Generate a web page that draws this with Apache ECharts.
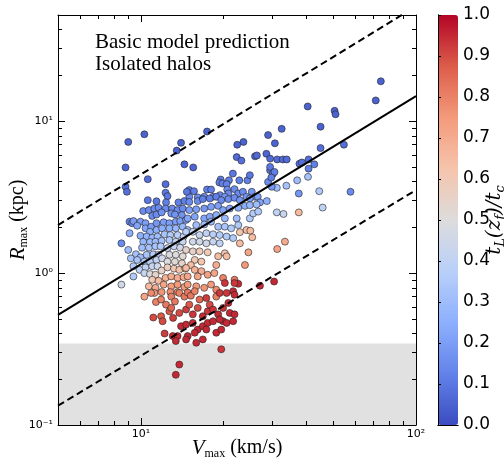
<!DOCTYPE html>
<html><head><meta charset="utf-8">
<script src="https://cdn.jsdelivr.net/npm/echarts@6/dist/echarts.min.js"></script>
<style>html,body{margin:0;padding:0;background:#fff}#c{width:504px;height:464px}</style>
</head><body><div id="c"></div>
<script>
// Vmax (km/s) of each isolated halo
const vmax = [
9.0,10.3,8.8,8.8,8.9,10.6,9.1,9.3,8.5,14.0,
13.5,17.4,14.4,15.5,10.6,11.4,22.4,23.6,22.3,26.0,
26.4,29.0,32.5,30.7,28.6,29.5,31.3,32.8,33.9,40.4,
45.0,50.6,51.0,45.0,54.7,71.4,74.5,37.7,38.5,40.7,
42.7,40.7,29.5,30.2,29.0,31.2,33.8,37.0,37.5,40.5,
44.5,45.8,57.8,31.2,33.0,37.5,33.4,31.3,27.1,30.5,
19.6,13.8,13.4,23.9,24.6,24.2,25.0,22.9,25.4,8.5,
9.4,10.3,11.1,12.2,23.2,29.5,30.6,21.6,19.5,19.3,
19.8,20.9,20.5,22.8,24.4,24.9,29.8,15.0,15.6,17.4,
18.0,20.6,20.8,21.9,22.6,23.5,19.4,20.2,25.3,26.0,
29.9,15.0,16.1,17.0,18.3,26.6,12.3,12.3,12.5,14.7,
12.35,13.7,14.4,10.2,10.7,11.2,11.6,12.3,13.0,13.6,
14.2,11.0,11.4,11.9,12.9,13.3,14.1,9.4,9.97,10.4,
9.7,10.4,10.9,11.4,12.1,12.7,13.4,13.9,14.6,10.8,
11.4,11.95,12.7,13.4,14.2,14.8,9.1,9.97,10.5,11.0,
11.5,12.2,12.8,13.6,14.3,10.2,10.8,11.3,11.9,12.7,
13.4,14.2,10.1,10.7,11.3,11.8,12.5,13.2,13.9,9.0,
9.6,9.97,10.5,11.1,11.6,9.2,9.7,10.3,10.8,11.4,
11.95,12.7,13.4,14.2,12.5,13.3,14.1,9.4,9.9,10.4,
11.0,11.5,10.3,10.8,11.3,11.9,12.5,13.2,13.8,14.5,
11.0,11.6,12.3,12.9,13.6,14.3,10.7,11.3,12.1,12.9,
13.6,14.4,11.2,11.9,12.8,13.6,15.0,16.1,16.8,17.8,
18.8,19.6,20.8,21.9,22.9,24.2,24.9,27.1,28.7,15.0,
15.9,17.0,18.0,19.1,19.9,21.05,22.6,23.9,24.9,26.35,
14.8,15.7,17.0,17.8,18.8,20.2,22.3,24.9,25.6,26.7,
15.9,17.0,18.0,19.1,20.2,21.3,22.6,14.6,15.45,16.35,
17.3,18.3,19.35,20.5,21.65,15.45,16.35,17.3,18.3,19.35,
22.9,14.6,15.45,16.35,17.5,19.1,20.2,20.5,15.7,16.6,
15.2,18.8,14.6,15.7,16.6,14.8,16.1,17.5,18.5,19.9,
21.9,22.6,14.8,15.9,17.0,18.0,18.8,20.2,21.9,21.65,
10.9,11.35,11.85,12.35,12.9,13.3,13.8,14.4,14.8,15.2,
15.7,16.35,17.3,18.8,19.35,20.5,21.9,11.85,12.0,13.1,
13.8,14.6,15.0,15.45,16.1,16.8,17.5,17.8,18.3,19.1,
19.9,20.8,21.05,21.9,19.9,12.7,12.9,13.06,13.6,14.0,
14.6,15.45,16.1,16.8,17.5,18.3,19.35,20.5,21.65,14.8,
15.7,16.8,17.3,18.8,19.6,13.4,15.9,14.6
];
// Rmax (kpc)
const rmax = [
7.3,8.2,4.96,3.7,3.43,4.15,2.18,2.13,1.57,7.2,
6.4,8.55,5.2,4.96,3.02,2.97,7.0,7.3,5.8,5.87,
5.95,8.1,8.9,7.15,6.1,5.67,5.6,5.6,5.6,12.5,
9.2,11.7,11.1,6.65,7.0,13.7,18.3,5.25,5.35,5.6,
5.2,4.87,4.75,4.5,3.98,3.64,3.76,4.08,3.34,4.3,
3.46,2.7,3.43,2.51,2.45,2.51,1.61,1.44,0.826,0.88,
0.315,0.25,0.214,1.13,1.37,1.92,1.9,1.86,1.72,0.84,
0.95,0.70,0.51,0.40,5.5,5.0,4.63,4.52,4.13,3.95,
3.89,4.08,3.85,4.08,4.08,4.41,4.26,3.52,3.46,3.55,
3.55,3.55,3.34,3.57,3.34,3.43,3.26,3.18,3.43,3.18,
3.7,3.18,3.15,3.18,3.18,3.18,3.85,3.38,3.21,3.43,
2.92,2.92,2.98,2.56,2.6,2.66,2.69,2.66,2.66,2.6,
2.66,2.38,2.43,2.51,2.47,2.43,2.41,2.2,2.18,2.13,
2.05,1.97,2.02,2.13,2.16,2.13,2.18,2.2,2.24,1.87,
1.92,1.97,1.97,1.97,2.02,1.92,1.83,1.76,1.74,1.71,
1.74,1.80,1.78,1.78,1.74,1.61,1.6,1.61,1.63,1.65,
1.61,1.61,1.47,1.47,1.5,1.5,1.46,1.5,1.47,1.42,
1.33,1.27,1.32,1.33,1.32,1.25,1.22,1.19,1.19,1.22,
1.25,1.32,1.32,1.29,1.19,1.19,1.16,1.11,1.05,1.09,
1.11,1.11,1.0,0.985,0.975,1.04,1.09,1.07,1.05,1.07,
0.904,0.89,0.93,0.951,0.93,0.94,0.818,0.8,0.84,0.818,
0.84,0.81,0.74,0.75,0.75,0.75,2.94,2.98,3.07,3.1,
3.18,3.02,3.07,3.13,3.02,3.18,3.1,2.92,2.98,2.6,
2.63,2.66,2.73,2.77,2.6,2.66,2.69,2.77,2.8,2.83,
2.29,2.35,2.29,2.35,2.41,2.29,2.29,2.29,2.47,2.54,
2.07,2.09,2.18,2.02,2.02,1.97,2.07,1.87,1.87,1.78,
1.83,1.8,1.78,1.74,1.70,1.61,1.61,1.57,1.61,1.57,
1.57,1.42,1.39,1.39,1.37,1.29,1.35,1.29,1.22,1.19,
1.13,1.13,1.08,1.05,1.03,0.951,0.951,0.975,1.0,0.93,
0.904,0.85,0.84,0.818,0.8,0.84,0.778,0.86,0.86,0.76,
0.74,0.645,0.67,0.62,0.70,0.65,0.74,0.70,0.745,0.71,
0.76,0.67,0.685,0.70,0.74,0.74,0.72,0.52,0.482,0.507,
0.547,0.575,0.62,0.535,0.59,0.52,0.56,0.62,0.575,0.535,
0.59,0.636,0.547,0.535,0.482,0.56,0.59,0.385,0.385,0.447,
0.458,0.47,0.425,0.447,0.47,0.482,0.495,0.47,0.482,0.385,
0.405,0.366,0.425,0.405,0.425,0.357,0.348,0.366
];
// tL(zf)/tc colour value
const tRatio = [
.05,.05,.06,.08,.08,.08,.12,.14,.15,.05,
.05,.05,.06,.06,.1,.1,.05,.05,.07,.07,
.07,.05,.05,.05,.06,.07,.07,.07,.07,.05,
.05,.05,.05,.08,.08,.05,.05,.08,.08,.08,
.12,.12,.1,.12,.15,.3,.32,.3,.18,.32,
.35,.4,.15,.4,.42,.65,.7,.72,.95,.95,
.93,.95,.95,.75,.72,.65,.65,.62,.65,.45,
.35,.72,.9,.92,.08,.1,.12,.1,.12,.12,
.12,.12,.13,.12,.12,.1,.12,.12,.12,.12,
.12,.15,.15,.15,.15,.15,.15,.18,.18,.2,
.18,.15,.15,.15,.15,.2,.08,.1,.1,.1,
.12,.12,.12,.15,.15,.15,.15,.15,.15,.15,
.15,.15,.15,.17,.17,.17,.17,.2,.2,.2,
.22,.22,.2,.18,.2,.2,.2,.2,.2,.25,
.25,.25,.25,.28,.28,.3,.25,.25,.27,.28,
.3,.33,.35,.38,.4,.28,.3,.3,.32,.35,
.4,.42,.3,.32,.33,.35,.4,.42,.45,.3,
.32,.3,.33,.35,.38,.33,.33,.35,.38,.4,
.45,.48,.5,.52,.5,.52,.55,.35,.38,.4,
.42,.45,.42,.48,.55,.55,.58,.6,.62,.62,
.6,.65,.68,.7,.7,.7,.65,.7,.72,.74,
.75,.75,.75,.76,.77,.78,.15,.15,.12,.12,
.12,.15,.15,.15,.18,.18,.2,.22,.25,.2,
.2,.18,.2,.2,.22,.22,.25,.25,.28,.3,
.22,.22,.22,.22,.25,.28,.3,.35,.35,.35,
.3,.3,.3,.32,.33,.35,.35,.38,.4,.42,
.4,.38,.36,.35,.35,.45,.45,.45,.42,.4,
.65,.55,.55,.58,.6,.65,.62,.65,.6,.62,
.65,.7,.65,.68,.7,.72,.72,.73,.72,.8,
.82,.95,.75,.75,.76,.75,.78,.93,.93,.95,
.78,.8,.8,.82,.8,.82,.8,.82,.82,.82,
.8,.85,.92,.8,.93,.93,.95,.88,.9,.92,
.9,.92,.88,.93,.9,.95,.93,.9,.93,.95,
.93,.95,.95,.95,.95,.88,.85,.95,.95,.95,
.95,.95,.95,.95,.95,.95,.95,.95,.95,.95,
.95,.95,.95,.95,.95,.95,.95,.95
];
// model prediction lines (Vmax endpoints, Rmax values)
const lineV = [5, 100];
const modelR = [0.53, 14.6];
const upperR = [2.07, 57];
const lowerR = [0.134, 3.52];
const resolutionR = 0.344;
// ticks
const xMajor = [10, 100];
const xMinor = [6, 7, 8, 9, 20, 30, 40, 50, 60, 70, 80, 90];
const yMajor = [0.1, 1, 10];
const yMinor = [0.2, 0.3, 0.4, 0.5, 0.6, 0.7, 0.8, 0.9, 2, 3, 4, 5, 6, 7, 8, 9, 20, 30, 40];
const powLabels = {0.1: '10\u207B\u00B9', 1: '10\u2070', 10: '10\u00B9', 100: '10\u00B2'};
const cbTicks = [0, 0.1, 0.2, 0.3, 0.4, 0.5, 0.6, 0.7, 0.8, 0.9, 1.0];
const coolwarm = ['#3b4cc0', '#6282ea', '#8db0fe', '#b9d0f9', '#dddcdc', '#f5c4ac', '#f49a7b', '#dc5d4a', '#b40426'];

const points = vmax.map((v, i) => [v, rmax[i], tRatio[i]]);
const pair = (xs, ys) => xs.map((x, i) => [x, ys[i]]);

const serif = 'Liberation Serif';
const tickLab = {fontFamily: 'DejaVu Sans', fontSize: 11, color: '#000'};
function xAx(pos, vals, len, lab, extra) {
  return Object.assign({
    type: 'log', logBase: 10, min: 5, max: 100, gridIndex: 0, position: pos, z: 10,
    axisLine: {show: true, onZero: false, lineStyle: {color: '#000', width: 1}},
    axisTick: {show: true, inside: true, length: len, customValues: vals, lineStyle: {color: '#000', width: 1}},
    axisLabel: lab ? Object.assign({show: true, margin: 4, customValues: xMajor, formatter: v => powLabels[v] || ''}, tickLab) : {show: false},
    splitLine: {show: false}, minorTick: {show: false}
  }, extra || {});
}
function yAx(pos, vals, len, lab, extra) {
  return Object.assign({
    type: 'log', logBase: 10, min: 0.1, max: 50, gridIndex: 0, position: pos, z: 10,
    axisLine: {show: true, onZero: false, lineStyle: {color: '#000', width: 1}},
    axisTick: {show: true, inside: true, length: len, customValues: vals, lineStyle: {color: '#000', width: 1}},
    axisLabel: lab ? Object.assign({show: true, margin: 5, customValues: yMajor, formatter: v => powLabels[v] || ''}, tickLab) : {show: false},
    splitLine: {show: false}, minorTick: {show: false}
  }, extra || {});
}
const nameRich = {
  i: {fontFamily: serif, fontStyle: 'italic', fontSize: 21, lineHeight: 24, verticalAlign: 'middle', color: '#000'},
  s: {fontFamily: serif, fontSize: 12, lineHeight: 12, verticalAlign: 'bottom', color: '#000'},
  n: {fontFamily: serif, fontSize: 20, lineHeight: 24, verticalAlign: 'middle', color: '#000'}
};
const cbRich = {
  i: {fontFamily: 'DejaVu Serif', fontStyle: 'italic', fontSize: 20, lineHeight: 24, verticalAlign: 'middle', color: '#000'},
  s: {fontFamily: 'DejaVu Serif', fontStyle: 'italic', fontSize: 13, lineHeight: 12, verticalAlign: 'bottom', color: '#000'}
};

const chart = echarts.init(document.getElementById('c'), null, {renderer: 'canvas'});
chart.setOption({
  animation: false,
  backgroundColor: '#fff',
  title: {
    text: 'Basic model prediction\nIsolated halos', left: 95, top: 31, padding: 0,
    textStyle: {fontFamily: serif, fontSize: 21, fontWeight: 'normal', lineHeight: 22, color: '#000'}
  },
  grid: [
    {left: 58, top: 15, width: 358, height: 410, outerBoundsMode: 'none', containLabel: false},
    {left: 438, top: 15, width: 20, height: 410, outerBoundsMode: 'none', containLabel: false}
  ],
  xAxis: [
    xAx('bottom', xMajor, 7, true, {
      name: '{i|V}{s|max}{n| (km/s)}', nameLocation: 'middle', nameGap: 11, nameMoveOverlap: false,
      nameTextStyle: {rich: nameRich}
    }),
    xAx('bottom', xMinor, 4, false, {axisLine: {show: false}}),
    xAx('top', xMajor, 7, false),
    xAx('top', xMinor, 4, false, {axisLine: {show: false}}),
    {type: 'value', gridIndex: 1, min: 0, max: 1, position: 'bottom', z: 10,
     axisLine: {show: true, lineStyle: {color: '#000', width: 1}}, axisTick: {show: false}, axisLabel: {show: false}, splitLine: {show: false}},
    {type: 'value', gridIndex: 1, min: 0, max: 1, position: 'top', z: 10,
     axisLine: {show: true, lineStyle: {color: '#000', width: 1}}, axisTick: {show: false}, axisLabel: {show: false}, splitLine: {show: false}}
  ],
  yAxis: [
    yAx('left', yMajor, 7, true, {
      name: '{i|R}{s|max}{n| (kpc)}', nameLocation: 'middle', nameGap: 28, nameRotate: 90, nameMoveOverlap: false,
      nameTextStyle: {rich: nameRich}
    }),
    yAx('left', yMinor, 4, false, {axisLine: {show: false}}),
    yAx('right', yMajor, 7, false),
    yAx('right', yMinor, 4, false, {axisLine: {show: false}}),
    {type: 'value', gridIndex: 1, min: 0, max: 1, interval: 0.1, position: 'right', z: 10,
     axisLine: {show: true, lineStyle: {color: '#000', width: 1}},
     axisTick: {show: true, inside: false, length: 3, lineStyle: {color: '#000', width: 1}},
     axisLabel: {show: true, margin: 5, fontFamily: 'DejaVu Sans', fontSize: 17, color: '#000', formatter: v => v.toFixed(1)},
     splitLine: {show: false},
     name: '{i|t}{s|L}{i|(z}{s|f}{i|)/t}{s|c}', nameLocation: 'middle', nameGap: 25, nameRotate: 90, nameMoveOverlap: false,
     nameTextStyle: {rich: cbRich}},
    {type: 'value', gridIndex: 1, min: 0, max: 1, position: 'left', z: 10,
     axisLine: {show: true, lineStyle: {color: '#000', width: 1}}, axisTick: {show: false}, axisLabel: {show: false}, splitLine: {show: false}}
  ],
  visualMap: {
    type: 'continuous', min: 0, max: 1, dimension: 2, seriesIndex: 0,
    inRange: {color: coolwarm}, calculable: false, show: true, orient: 'vertical',
    left: 438, top: 15, itemWidth: 20, itemHeight: 410, padding: 0, text: null, z: 4
  },
  series: [
    {type: 'scatter', xAxisIndex: 0, yAxisIndex: 0, data: points, symbolSize: 7, z: 3,
     itemStyle: {borderColor: '#222', borderWidth: 0.6, opacity: 1}},
    {type: 'line', xAxisIndex: 0, yAxisIndex: 0, data: pair(lineV, [resolutionR, resolutionR]), symbol: 'none', z: 1, silent: true,
     lineStyle: {width: 0}, areaStyle: {color: '#e1e1e1', opacity: 1, origin: 'start'}},
    {type: 'line', xAxisIndex: 0, yAxisIndex: 0, data: pair(lineV, modelR), symbol: 'none', z: 5,
     lineStyle: {color: '#000', width: 2}},
    {type: 'line', xAxisIndex: 0, yAxisIndex: 0, data: pair(lineV, upperR), symbol: 'none', z: 5,
     lineStyle: {color: '#000', width: 2, type: [7, 4]}},
    {type: 'line', xAxisIndex: 0, yAxisIndex: 0, data: pair(lineV, lowerR), symbol: 'none', z: 5,
     lineStyle: {color: '#000', width: 2, type: [7, 4]}}
  ]
});
</script></body></html>
